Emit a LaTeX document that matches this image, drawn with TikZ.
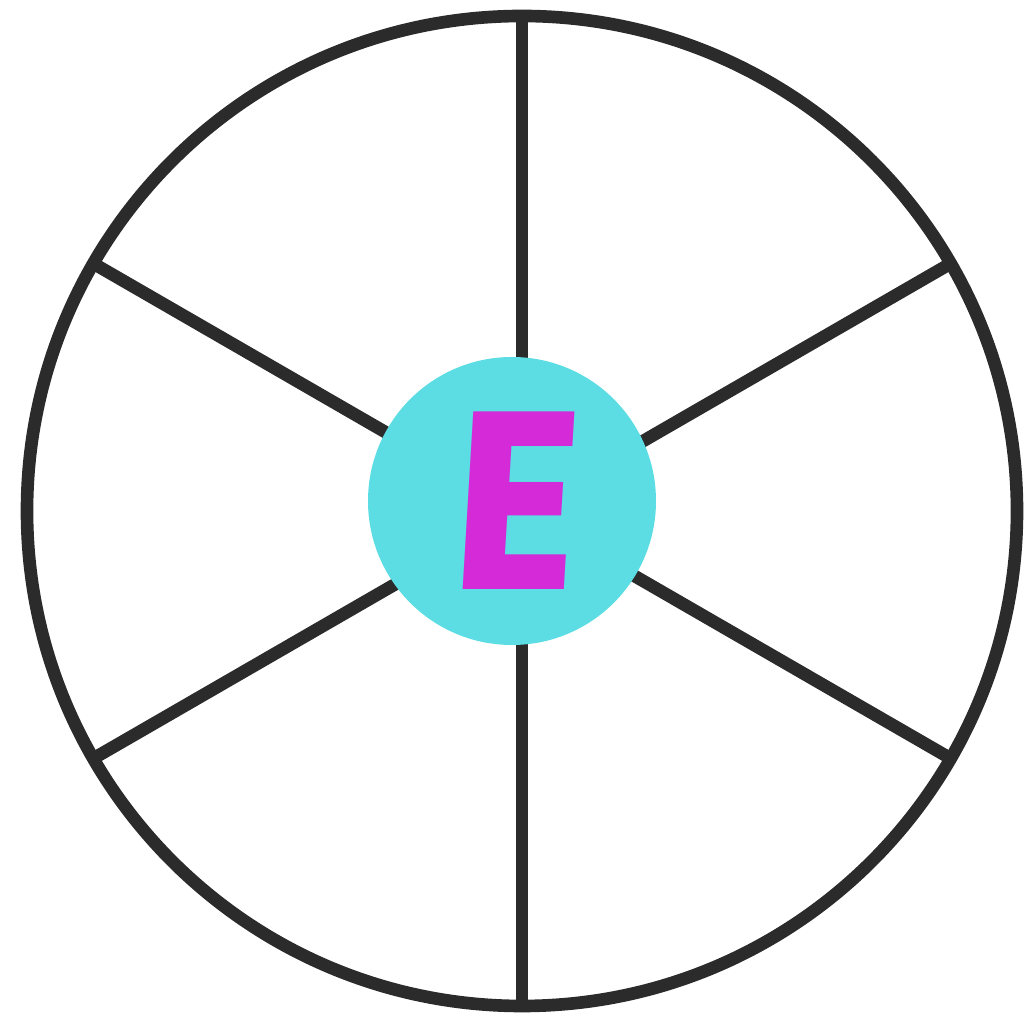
\documentclass[tikz,border=0pt]{standalone}
\usepackage{fontspec}
\newfontfamily\hubfont[FakeSlant=0.06, FakeStretch=0.93]{Poppins}
\usetikzlibrary{positioning}
\definecolor{wheelgray}{HTML}{2B2B2B}
\definecolor{hubcyan}{HTML}{5BDDE3}
\definecolor{hubmagenta}{HTML}{D42AD8}

\begin{document}
\begin{tikzpicture}[
  rim/.style={draw=wheelgray, line width=3.6pt},
  spoke/.style={draw=wheelgray, line width=3.6pt},
  hub/.style={circle, fill=hubcyan, minimum size=2.88cm, inner sep=0pt,
              font=\hubfont\bfseries\fontsize{72}{72}\selectfont, text=hubmagenta},
]
  \useasboundingbox (0,0) rectangle (10.30,10.19);
  \coordinate (c) at (5.22,5.08);
  % Spokes
  \foreach \a in {30,90,...,330}
    \draw[spoke] (c) -- ++(\a:4.95) coordinate (r\a);
  % Rim
  \draw[rim] (c) circle (4.95);
  % Hub
  \node[hub] (hub) at (5.12,5.18) {E};
\end{tikzpicture}
\end{document}
